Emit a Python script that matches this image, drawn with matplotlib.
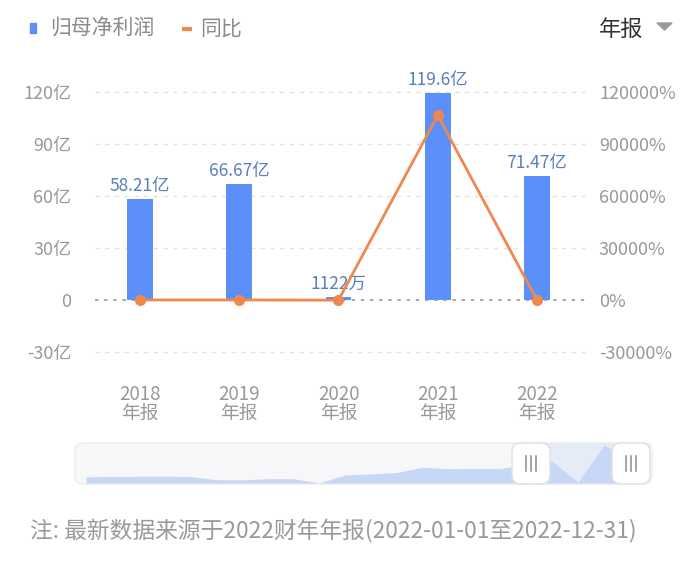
import matplotlib
matplotlib.use("Agg")
import matplotlib.pyplot as plt
from matplotlib.patches import FancyBboxPatch, Rectangle, Polygon

plt.rcParams['font.family'] = ['Noto Sans CJK SC', 'DejaVu Sans']

# main chart data
periods = ["2018\n年报", "2019\n年报", "2020\n年报", "2021\n年报", "2022\n年报"]
profit = [58.21, 66.67, 0.1122, 119.6, 71.47]          # 亿
profit_labels = ["58.21亿", "66.67亿", "1122万", "119.6亿", "71.47亿"]
yoy = [21.5, 14.53, -99.83, 106494.0, -40.24]           # %
left_ticks = [-30, 0, 30, 60, 90, 120]
left_ticklabels = ["-30亿", "0", "30亿", "60亿", "90亿", "120亿"]
right_ticks = [-30000, 0, 30000, 60000, 90000, 120000]
right_ticklabels = ["-30000%", "0%", "30000%", "60000%", "90000%", "120000%"]

# overview (data-zoom) series, 亿
mini_years = list(range(2001, 2023))
mini_profit = [17, 18, 18.5, 19, 18, 8, 7, 11, 11, -3, 23, 26, 31, 48, 43, 44, 44,
               58.21, 66.67, 0.1122, 119.6, 71.47]

BLUE = "#5b8ff9"
ORANGE = "#f0884d"
GRAY = "#999999"
LABEL = "#5a7fbf"

W, H = 700, 570
fig = plt.figure(figsize=(7, 5.7), dpi=100)


def fr(x0, y0, x1, y1):
    # pixel box (top-left origin) -> figure fraction rect
    return [x0 / W, 1 - y1 / H, (x1 - x0) / W, (y1 - y0) / H]


# background overlay
bg = fig.add_axes([0, 0, 1, 1], zorder=0)
bg.set_xlim(0, W)
bg.set_ylim(H, 0)
bg.axis("off")

ax = fig.add_axes(fr(95, 92, 585, 352), zorder=2)
ax.patch.set_alpha(0)
x = list(range(len(periods)))
bar_h = [max(v, 1.7) for v in profit]
ax.bar(x, bar_h, width=0.26, color=BLUE, zorder=2)
for xi, v, lab in zip(x, bar_h, profit_labels):
    ax.annotate(lab, (xi, v), xytext=(0, 3), textcoords="offset points",
                ha="center", va="bottom", fontsize=12.5, color=LABEL)
ax.set_xlim(-0.453, 4.484)
ax.set_ylim(-30, 120)
ax.set_yticks(left_ticks)
ax.set_yticklabels(left_ticklabels)
ax.set_xticks(x)
ax.set_xticklabels(periods, linespacing=0.88)
for t in left_ticks:
    if t == 0:
        ax.axhline(0, color="#9a9a9a", lw=1.2, ls=(0, (2, 3.5)), zorder=1, clip_on=False)
    else:
        ax.axhline(t, color="#e2e2e2", lw=1.0, ls=(0, (3, 4)), zorder=1, clip_on=False)
ax.tick_params(axis="both", length=0, colors=GRAY, labelsize=13)
ax.tick_params(axis="x", labelsize=13.5, pad=23)
ax.tick_params(axis="y", pad=17)
for s in ax.spines.values():
    s.set_visible(False)

ax2 = ax.twinx()
ax2.set_zorder(3)
ax2.patch.set_alpha(0)
ax2.plot(x, yoy, color=ORANGE, lw=2, marker="o", markersize=7, clip_on=False)
ax2.set_ylim(-30000, 120000)
ax2.set_yticks(right_ticks)
ax2.set_yticklabels(right_ticklabels)
ax2.tick_params(axis="y", length=0, colors=GRAY, labelsize=13, pad=10)
for s in ax2.spines.values():
    s.set_visible(False)

# legend / header
bg.add_patch(Rectangle((30, 23), 6, 10, color=BLUE))
bg.text(50, 29, "归母净利润", fontsize=15, color="#8a8a8a", va="center", ha="left")
bg.plot([182, 192], [28.5, 28.5], color=ORANGE, lw=3, solid_capstyle="butt")
bg.text(200, 29, "同比", fontsize=15, color="#8a8a8a", va="center", ha="left")
bg.text(599, 29, "年报", fontsize=16, color="#333333", va="center", ha="left")
bg.add_patch(Polygon([[657, 23], [672, 23], [664.5, 30]], closed=True, color="#9a9a9a"))

# data-zoom slider background
bg.add_patch(FancyBboxPatch((75, 443), 577, 41, boxstyle="round,pad=0,rounding_size=8",
                            facecolor="#f7f7f9", edgecolor="#ececec", lw=1))
bg.add_patch(Rectangle((531, 443), 100, 41, facecolor="#e6ebf8", edgecolor="none"))

mini = fig.add_axes(fr(86, 445, 630, 483), zorder=1)
mini.patch.set_alpha(0)
mini.fill_between(mini_years, mini_profit, min(mini_profit), color="#c6d7f7", lw=0)
mini.set_xlim(mini_years[0], mini_years[-1])
mini.set_ylim(min(mini_profit), max(mini_profit))
mini.axis("off")

fg = fig.add_axes([0, 0, 1, 1], zorder=5)
fg.set_xlim(0, W)
fg.set_ylim(H, 0)
fg.axis("off")
fg.patch.set_alpha(0)
for cx in (531, 631):
    fg.add_patch(FancyBboxPatch((cx - 19, 443), 38, 41, boxstyle="round,pad=0,rounding_size=9",
                                facecolor="white", edgecolor="#e0e0e0", lw=1))
    for dx in (-5, 0, 5):
        fg.plot([cx + dx, cx + dx], [456, 471], color="#8c8c8c", lw=1.1)

# footnote
bg.text(30, 531, "注: 最新数据来源于2022财年年报(2022-01-01至2022-12-31)",
        fontsize=16.4, color=GRAY, va="center", ha="left")

fig.savefig("out.png", dpi=100)
